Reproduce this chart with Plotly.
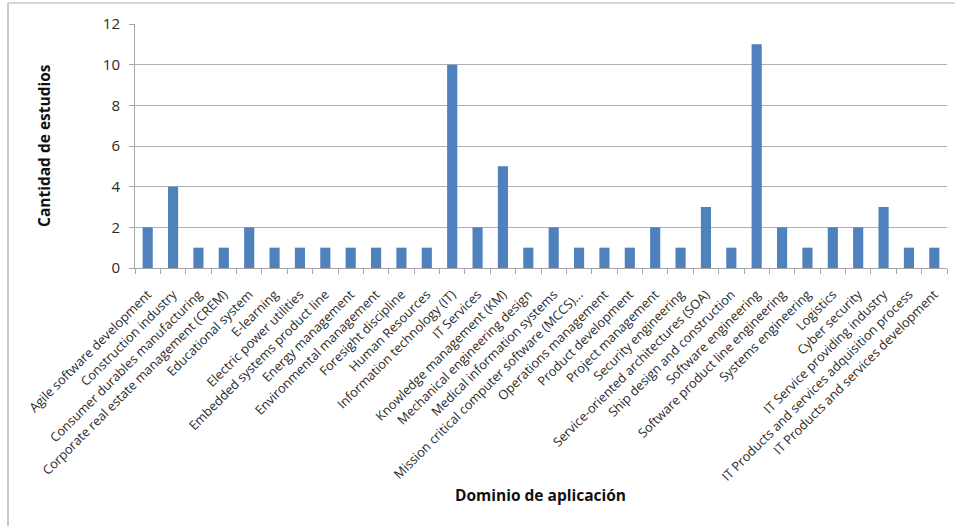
import plotly.graph_objects as go

categories = [
    "Agile software development", "Construction industry", "Consumer durables manufacturing",
    "Corporate real estate management (CREM)", "Educational system", "E-learning",
    "Electric power utilities", "Embedded systems product line", "Energy management",
    "Environmental management", "Foresight discipline", "Human Resources",
    "Information technology (IT)", "IT Services", "Knowledge management (KM)",
    "Mechanical engineering design", "Medical information systems",
    "Mission critical computer software (MCCS)...", "Operations management",
    "Product development", "Project management", "Security engineering",
    "Service-oriented architectures (SOA)", "Ship design and construction",
    "Software engineering", "Software product line engineering", "Systems engineering",
    "Logistics", "Cyber security", "IT Service providing industry",
    "IT Products and services adquisition process", "IT Products and services development",
]
values = [2, 4, 1, 1, 2, 1, 1, 1, 1, 1, 1, 1, 10, 2, 5, 1, 2, 1, 1, 1, 2, 1, 3, 1, 11, 2, 1, 2, 2, 3, 1, 1]
y_ticks = [0, 2, 4, 6, 8, 10, 12]

font_family = "Open Sans, Liberation Sans, sans-serif"

fig = go.Figure(go.Bar(x=categories, y=values, marker=dict(color="#4F81BD", line=dict(width=0)), width=0.4))

fig.update_layout(
    width=955, height=526,
    margin=dict(l=135, r=8, t=24, b=258),
    paper_bgcolor="white", plot_bgcolor="white",
    showlegend=False,
    font=dict(family=font_family, color="#222"),
)
fig.update_xaxes(
    tickangle=-45, tickfont=dict(size=12.8, color="#2a2a2a"),
    showline=True, linecolor="#a6a6a6", linewidth=1,
    ticks="outside", tickson="boundaries", ticklen=5, tickcolor="#a6a6a6",
    ticklabelstandoff=13,
    showgrid=False,
)
fig.update_yaxes(
    range=[0, 12], tickvals=y_ticks, tickfont=dict(size=15, color="#2a2a2a"),
    showline=True, linecolor="#a6a6a6", linewidth=1,
    ticks="outside", ticklen=5, tickcolor="#a6a6a6",
    ticklabelstandoff=6,
    showgrid=True, gridcolor="#b0b0b0", gridwidth=1, zeroline=False,
)
fig.add_annotation(text="<b>Dominio de aplicación</b>", xref="paper", yref="paper",
                   x=(540 - 135) / 812, y=-(495 - 268) / 244, showarrow=False,
                   xanchor="center", yanchor="middle", font=dict(size=15.5, color="#111"))
fig.add_annotation(text="<b>Cantidad de estudios</b>", xref="paper", yref="paper",
                   x=-(135 - 44) / 812, y=(268 - 146) / 244, showarrow=False, textangle=-90,
                   xanchor="center", yanchor="middle", font=dict(size=15.5, color="#111"))
fig.add_shape(type="line", xref="paper", yref="paper", x0=-(135 - 8) / 812, x1=-(135 - 8) / 812,
              y0=-258 / 244, y1=(268 - 3) / 244, line=dict(color="#b8b8b8", width=1.5))
fig.add_shape(type="line", xref="paper", yref="paper", x0=-(135 - 8) / 812, x1=1.02,
              y0=(268 - 3) / 244, y1=(268 - 3) / 244, line=dict(color="#c8c8c8", width=1.5))
fig.write_html("out.html")
